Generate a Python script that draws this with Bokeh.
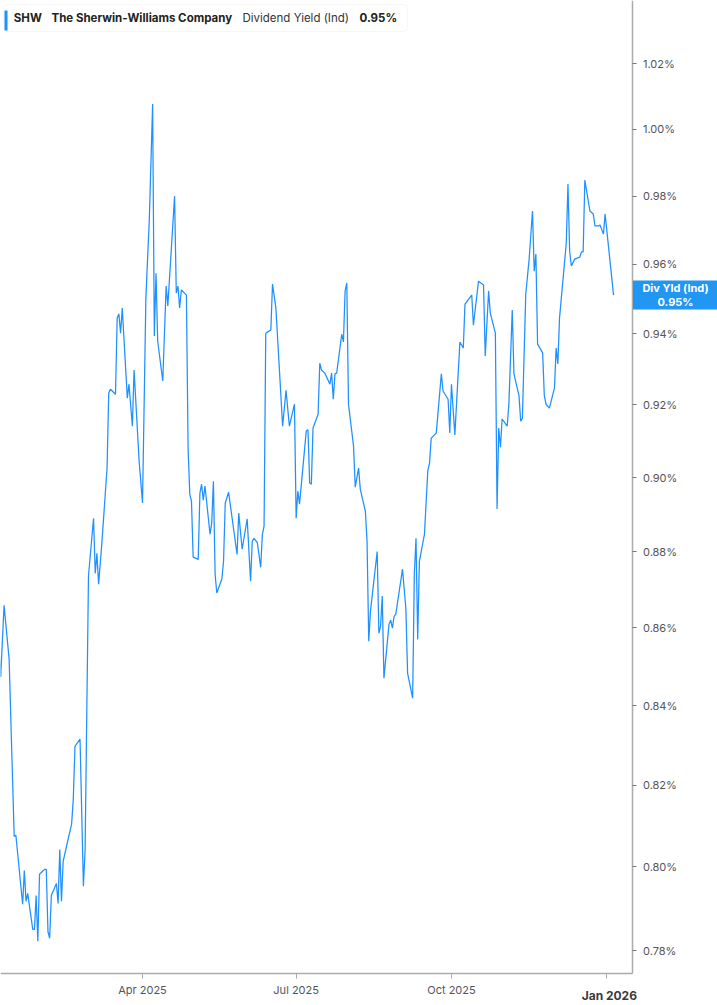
import pandas as pd
from bokeh.plotting import figure
from bokeh.models import Range1d, FixedTicker, PrintfTickFormatter, Label, BoxAnnotation
from bokeh.embed import file_html
from bokeh.resources import INLINE

# dividend yield (%), one point per visible turn of the line
dates = [
    "2025-01-06", "2025-01-07", "2025-01-09", "2025-01-12", "2025-01-15", "2025-01-16",
    "2025-01-20", "2025-01-21", "2025-01-22", "2025-01-23", "2025-01-26", "2025-01-27",
    "2025-01-28", "2025-01-29", "2025-01-30", "2025-02-02", "2025-02-03", "2025-02-04",
    "2025-02-05", "2025-02-06", "2025-02-09", "2025-02-10", "2025-02-11", "2025-02-12",
    "2025-02-13", "2025-02-15", "2025-02-18", "2025-02-19", "2025-02-20", "2025-02-23",
    "2025-02-25", "2025-02-26", "2025-02-28", "2025-03-03", "2025-03-04", "2025-03-05",
    "2025-03-06", "2025-03-08", "2025-03-11", "2025-03-12", "2025-03-13", "2025-03-16",
    "2025-03-17", "2025-03-18", "2025-03-19", "2025-03-20", "2025-03-23", "2025-03-24",
    "2025-03-26", "2025-03-27", "2025-03-30", "2025-04-01", "2025-04-03", "2025-04-05",
    "2025-04-07", "2025-04-08", "2025-04-09", "2025-04-10", "2025-04-13", "2025-04-15",
    "2025-04-16", "2025-04-20", "2025-04-21", "2025-04-22", "2025-04-23", "2025-04-24",
    "2025-04-27", "2025-04-28", "2025-04-29", "2025-04-30", "2025-05-01", "2025-05-04",
    "2025-05-05", "2025-05-06", "2025-05-07", "2025-05-08", "2025-05-11", "2025-05-12",
    "2025-05-13", "2025-05-14", "2025-05-15", "2025-05-18", "2025-05-19", "2025-05-20",
    "2025-05-22", "2025-05-27", "2025-05-28", "2025-05-30", "2025-06-02", "2025-06-04",
    "2025-06-05", "2025-06-06", "2025-06-08", "2025-06-10", "2025-06-11", "2025-06-12",
    "2025-06-13", "2025-06-14", "2025-06-16", "2025-06-17", "2025-06-19", "2025-06-23",
    "2025-06-25", "2025-06-27", "2025-06-30", "2025-07-01", "2025-07-02", "2025-07-03",
    "2025-07-07", "2025-07-08", "2025-07-09", "2025-07-10", "2025-07-11", "2025-07-14",
    "2025-07-15", "2025-07-16", "2025-07-18", "2025-07-21", "2025-07-22", "2025-07-23",
    "2025-07-24", "2025-07-25", "2025-07-28", "2025-07-29", "2025-07-30", "2025-07-31",
    "2025-08-01", "2025-08-04", "2025-08-05", "2025-08-07", "2025-08-08", "2025-08-11",
    "2025-08-12", "2025-08-13", "2025-08-14", "2025-08-18", "2025-08-19", "2025-08-20",
    "2025-08-21", "2025-08-22", "2025-08-25", "2025-08-26", "2025-08-27", "2025-08-28",
    "2025-08-29", "2025-09-02", "2025-09-04", "2025-09-05", "2025-09-08", "2025-09-09",
    "2025-09-10", "2025-09-11", "2025-09-12", "2025-09-15", "2025-09-17", "2025-09-18",
    "2025-09-19", "2025-09-22", "2025-09-25", "2025-09-26", "2025-09-29", "2025-09-30",
    "2025-10-01", "2025-10-03", "2025-10-06", "2025-10-08", "2025-10-09", "2025-10-13",
    "2025-10-14", "2025-10-17", "2025-10-20", "2025-10-21", "2025-10-23", "2025-10-24",
    "2025-10-27", "2025-10-28", "2025-10-29", "2025-10-30", "2025-10-31", "2025-11-03",
    "2025-11-04", "2025-11-06", "2025-11-07", "2025-11-10", "2025-11-11", "2025-11-12",
    "2025-11-14", "2025-11-16", "2025-11-18", "2025-11-19", "2025-11-20", "2025-11-21",
    "2025-11-24", "2025-11-25", "2025-11-26", "2025-11-28", "2025-11-29", "2025-12-01",
    "2025-12-02", "2025-12-03", "2025-12-04", "2025-12-08", "2025-12-09", "2025-12-10",
    "2025-12-11", "2025-12-13", "2025-12-16", "2025-12-17", "2025-12-18", "2025-12-19",
    "2025-12-22", "2025-12-24", "2025-12-25", "2025-12-27", "2025-12-28", "2025-12-30",
    "2025-12-31", "2026-01-05",
]
div_yield = [
    0.8547, 0.8473, 0.8659, 0.8519, 0.8074, 0.8077,
    0.7910, 0.7991, 0.7917, 0.7936, 0.7850, 0.7850,
    0.7931, 0.7822, 0.7982, 0.7994, 0.7994, 0.7845,
    0.7829, 0.7931, 0.7960, 0.7912, 0.8042, 0.7917,
    0.8013, 0.8050, 0.8104, 0.8165, 0.8297, 0.8315,
    0.7953, 0.8042, 0.8736, 0.8890, 0.8743, 0.8796,
    0.8714, 0.8828, 0.9026, 0.9233, 0.9244, 0.9230,
    0.9445, 0.9457, 0.9402, 0.9474, 0.9219, 0.9258,
    0.9141, 0.9298, 0.9045, 0.8931, 0.9503, 0.9727,
    1.0077, 0.9394, 0.9574, 0.9379, 0.9267, 0.9537,
    0.9480, 0.9800, 0.9517, 0.9537, 0.9474, 0.9526,
    0.9511, 0.9081, 0.8955, 0.8936, 0.8786, 0.8780,
    0.8958, 0.8982, 0.8939, 0.8977, 0.8847, 0.8877,
    0.8990, 0.8741, 0.8691, 0.8728, 0.8775, 0.8931,
    0.8960, 0.8793, 0.8904, 0.8807, 0.8888, 0.8722,
    0.8828, 0.8836, 0.8825, 0.8759, 0.8847, 0.8869,
    0.9402, 0.9405, 0.9411, 0.9543, 0.9474, 0.9141,
    0.9241, 0.9141, 0.9202, 0.8890, 0.8963, 0.8928,
    0.9128, 0.9131, 0.8985, 0.8982, 0.9136, 0.9174,
    0.9317, 0.9298, 0.9289, 0.9258, 0.9289, 0.9216,
    0.9287, 0.9289, 0.9399, 0.9377, 0.9523, 0.9546,
    0.9202, 0.9086, 0.8974, 0.9026, 0.8968, 0.8909,
    0.8828, 0.8565, 0.8643, 0.8801, 0.8586, 0.8604,
    0.8683, 0.8470, 0.8609, 0.8620, 0.8599, 0.8630,
    0.8635, 0.8754, 0.8649, 0.8483, 0.8419, 0.8741,
    0.8836, 0.8570, 0.8775, 0.8847, 0.9020, 0.9039,
    0.9108, 0.9122, 0.9287, 0.9239, 0.9216, 0.9122,
    0.9258, 0.9117, 0.9377, 0.9360, 0.9485, 0.9511,
    0.9425, 0.9551, 0.9540, 0.9337, 0.9523, 0.9459,
    0.9402, 0.8915, 0.9136, 0.9083, 0.9161, 0.9141,
    0.9202, 0.9468, 0.9287, 0.9225, 0.9155, 0.9163,
    0.9514, 0.9615, 0.9756, 0.9580, 0.9630, 0.9371,
    0.9346, 0.9225, 0.9202, 0.9191, 0.9210, 0.9247,
    0.9360, 0.9315, 0.9445, 0.9662, 0.9836, 0.9638,
    0.9595, 0.9615, 0.9621, 0.9636, 0.9636, 0.9848,
    0.9756, 0.9747, 0.9712, 0.9712, 0.9715, 0.9688,
    0.9747, 0.9511,
]

yield_ticks = [0.78, 0.80, 0.82, 0.84, 0.86, 0.88, 0.90, 0.92, 0.94, 0.96, 0.98, 1.00, 1.02]
month_ticks = ["2025-04-01", "2025-07-01", "2025-10-01", "2026-01-01"]
month_labels = ["Apr 2025", "Jul 2025", "Oct 2025", "Jan 2026"]

symbol = "SHW"
company = "The Sherwin-Williams Company"
metric = "Dividend Yield (Ind)"
short_metric = "Div Yld (Ind)"

BLUE = "#1e90ff"
AXIS_GREY = "#ababab"
FONT = "Inter"
W, H = 717, 1005


def ms(ts):
    return int(pd.Timestamp(ts).value // 10**6)


x = pd.to_datetime(dates)
last = div_yield[-1]

jan1 = pd.Timestamp("2025-01-01")
x_start = jan1 + pd.Timedelta(days=5.89)
x_end = jan1 + pd.Timedelta(days=430.57)
x_axis_at = jan1 + pd.Timedelta(days=380.52)   # where the value axis sits
y_bottom, y_top = 0.76713, 1.03977
y_axis_at = 0.77453                             # where the date axis sits

# the frame fills the whole canvas, the axes are pinned inside it
p = figure(
    width=W,
    height=H,
    x_axis_type="datetime",
    y_axis_type="log",
    y_axis_location="right",
    x_range=Range1d(x_start, x_end),
    y_range=Range1d(y_bottom, y_top),
    output_backend="svg",
    toolbar_location=None,
    min_border=0,
    background_fill_color="white",
    border_fill_color="white",
)
p.outline_line_color = None
p.grid.visible = False

p.line(x, div_yield, color=BLUE, line_width=1.25)

# date axis
tick_ms = [ms(d) for d in month_ticks]
p.xaxis.fixed_location = y_axis_at
p.xaxis.bounds = (ms(x_start), ms(x_axis_at))
p.xaxis.ticker = FixedTicker(ticks=tick_ms)
overrides = {t: lab for t, lab in zip(tick_ms, month_labels)}
overrides[tick_ms[-1]] = ""  # drawn in bold below
p.xaxis.major_label_overrides = overrides
p.xaxis.axis_line_color = AXIS_GREY
p.xaxis.axis_line_width = 1.5
p.xaxis.major_tick_line_color = AXIS_GREY
p.xaxis.major_tick_out = 5
p.xaxis.major_tick_in = 0
p.xaxis.minor_tick_line_color = None
p.xaxis.major_label_standoff = 4
p.xaxis.major_label_text_font = FONT
p.xaxis.major_label_text_font_size = "11px"
p.xaxis.major_label_text_color = "#555555"

p.add_layout(Label(
    x=tick_ms[-1], y=10, x_units="data", y_units="screen",
    text=month_labels[-1], text_align="center", text_baseline="alphabetic",
    text_font=FONT, text_font_size="12px", text_font_style="bold",
    text_color="#3a3a3a", x_offset=2.5,
))

# value axis
p.yaxis.fixed_location = ms(x_axis_at)
p.yaxis.bounds = (y_axis_at, y_top)
p.yaxis.ticker = FixedTicker(ticks=yield_ticks)
p.yaxis.formatter = PrintfTickFormatter(format="%.2f%%")
p.yaxis.axis_line_color = AXIS_GREY
p.yaxis.axis_line_width = 1.5
p.yaxis.major_tick_line_color = "#777777"
p.yaxis.major_tick_out = 4
p.yaxis.major_tick_in = 0
p.yaxis.minor_tick_line_color = None
p.yaxis.major_label_standoff = 6
p.yaxis.major_label_text_font = FONT
p.yaxis.major_label_text_font_size = "11px"
p.yaxis.major_label_text_color = "#555555"

# current value flag on the value axis
p.add_layout(BoxAnnotation(
    left=632.5, right=W, top=H - 280, bottom=H - 309,
    left_units="screen", right_units="screen", top_units="screen", bottom_units="screen",
    fill_color="#2196f3", fill_alpha=1, line_color=None,
))
p.add_layout(Label(
    x=675, y=last, x_units="screen", y_units="data",
    text=f"{short_metric}\n{last:.2f}%", text_align="center", text_baseline="middle",
    text_font=FONT, text_font_size="11px", text_font_style="bold",
    text_color="white", text_line_height=1.05,
))

# header box
p.add_layout(BoxAnnotation(
    left=3, right=407, top=H - 4, bottom=H - 31,
    left_units="screen", right_units="screen", top_units="screen", bottom_units="screen",
    fill_color="white", fill_alpha=1, line_color="#e3e3e3", line_width=1, border_radius=4,
))
p.add_layout(BoxAnnotation(
    left=4, right=7, top=H - 10, bottom=H - 30,
    left_units="screen", right_units="screen", top_units="screen", bottom_units="screen",
    fill_color=BLUE, fill_alpha=1, line_color=None,
))

header = [
    (13.3, symbol, "bold", "#222222"),
    (51, company, "bold", "#222222"),
    (242, metric, "normal", "#333333"),
    (359, f"{last:.2f}%", "bold", "#222222"),
]
for hx, txt, style, col in header:
    p.add_layout(Label(
        x=hx, y=H - 17.5, x_units="screen", y_units="screen", text=txt,
        text_baseline="middle", text_font=FONT, text_font_size="11.5px",
        text_font_style=style, text_color=col,
    ))

open("out.html", "w").write(file_html(p, INLINE))
